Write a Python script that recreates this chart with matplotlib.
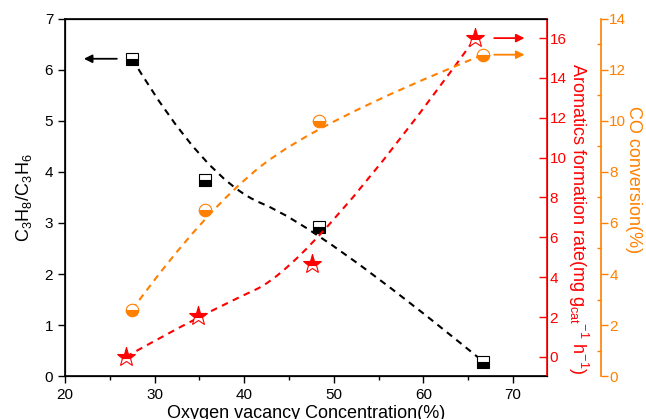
import matplotlib
matplotlib.use("Agg")
import matplotlib.pyplot as plt
from matplotlib.path import Path
from matplotlib.patches import PathPatch

plt.rcParams["font.family"] = ["Liberation Sans", "DejaVu Sans"]
plt.rcParams["mathtext.fontset"] = "custom"
plt.rcParams["mathtext.rm"] = "Liberation Sans"
plt.rcParams["mathtext.it"] = "Liberation Sans"

BLACK = "#000000"; RED = "#FF0000"; ORANGE = "#FF8000"

# ratio C3H8/C3H6 (left axis)
x_ratio = [27.5, 35.6, 48.3, 66.7]
ratio = [6.22, 3.84, 2.93, 0.28]
# aromatics formation rate (red axis)
x_arom = [26.8, 34.9, 47.6, 65.8]
arom = [0.0, 2.06, 4.68, 16.0]
# CO conversion (orange axis)
x_co = [27.5, 35.6, 48.3, 66.7]
co = [2.6, 6.5, 10.0, 12.6]


def bspline(ax, xs, ys, color):
    # quadratic clamped B-spline through the control points (Origin style)
    pts = list(zip(xs, ys))
    verts = [pts[0]]
    codes = [Path.MOVETO]
    n = len(pts)
    for i in range(1, n - 1):
        ctrl = pts[i]
        if i < n - 2:
            end = ((pts[i][0] + pts[i + 1][0]) / 2, (pts[i][1] + pts[i + 1][1]) / 2)
        else:
            end = pts[-1]
        verts += [ctrl, end]
        codes += [Path.CURVE3, Path.CURVE3]
    ax.add_patch(PathPatch(Path(verts, codes), fill=False, edgecolor=color, lw=1.5,
                           linestyle=(0, (3.2, 2.6)), zorder=2))


fig = plt.figure(figsize=(6.46, 4.19), dpi=100)
ax = fig.add_axes([0.1006, 0.1026, 0.7461, 0.8521])
ax2 = ax.twinx()
ax3 = ax.twinx()
ax3.spines["right"].set_position(("outward", 38.9))

# left axis
bspline(ax, x_ratio, ratio, BLACK)
ax.plot(x_ratio, ratio, ls="none", marker="s", ms=8, color=BLACK, mec=BLACK,
        fillstyle="bottom", markerfacecoloralt="white", mew=0.8, zorder=3)
ax.set_xlim(20, 73.8)
ax.set_ylim(0, 7)
ax.set_xticks([20, 30, 40, 50, 60, 70])
ax.set_xticks([25, 35, 45, 55, 65], minor=True)
ax.set_yticks(range(0, 8))
ax.tick_params(axis="both", which="major", direction="out", length=5, width=1,
               labelsize=11)
ax.tick_params(axis="x", which="minor", direction="out", length=3, width=1)
ax.set_xlabel("Oxygen vacancy Concentration(%)", fontsize=13, labelpad=2)
ax.set_ylabel("C$_3$H$_8$/C$_3$H$_6$", fontsize=13, labelpad=8)
for s in ["left", "bottom", "top"]:
    ax.spines[s].set_linewidth(1.2)
ax.annotate("", xy=(21.8, 6.22), xytext=(26.1, 6.22),
            arrowprops=dict(arrowstyle="-|>", color=BLACK, lw=1.3, mutation_scale=12))

# red axis
bspline(ax2, x_arom, arom, RED)
ax2.plot(x_arom, arom, ls="none", marker="*", ms=14, color=RED, mec=RED,
         fillstyle="top", markerfacecoloralt="white", mew=0.8, zorder=3)
ax2.set_ylim(-0.96, 16.96)
ax2.set_yticks(range(0, 17, 2))
ax2.tick_params(axis="y", which="major", direction="in", length=6, width=1,
                colors=RED, labelsize=11, pad=2)
ax2.spines["right"].set_color(RED)
ax2.spines["right"].set_linewidth(1.2)
ax2.set_ylabel("Aromatics formation rate(mg g$_{\\mathregular{cat}}$$^{\\mathregular{-1}}$ h$^{\\mathregular{-1}}$)",
               color=RED, fontsize=13, rotation=-90)
ax2.yaxis.set_label_coords(1.09, 0.44)
ax2.annotate("", xy=(71.6, 16.0), xytext=(67.6, 16.0),
             arrowprops=dict(arrowstyle="-|>", color=RED, lw=1.3, mutation_scale=12))

# orange axis
bspline(ax3, x_co, co, ORANGE)
ax3.plot(x_co, co, ls="none", marker="o", ms=9, color=ORANGE, mec=ORANGE,
         fillstyle="bottom", markerfacecoloralt="white", mew=0.8, zorder=3)
ax3.set_ylim(0, 14)
ax3.set_yticks(range(0, 15, 2))
ax3.set_yticks(range(1, 14, 2), minor=True)
ax3.tick_params(axis="y", which="major", direction="out", length=5, width=1,
                colors=ORANGE, labelsize=11, pad=1)
ax3.tick_params(axis="y", which="minor", direction="in", length=3, width=1,
                colors=ORANGE)
ax3.spines["right"].set_color(ORANGE)
ax3.spines["right"].set_linewidth(1.2)
ax3.set_ylabel("CO conversion(%)", color=ORANGE, fontsize=13, rotation=-90)
ax3.yaxis.set_label_coords(1.197, 0.55)
ax3.annotate("", xy=(71.6, 12.6), xytext=(67.6, 12.6),
             arrowprops=dict(arrowstyle="-|>", color=ORANGE, lw=1.3, mutation_scale=12))

fig.savefig("out.png", dpi=100)
